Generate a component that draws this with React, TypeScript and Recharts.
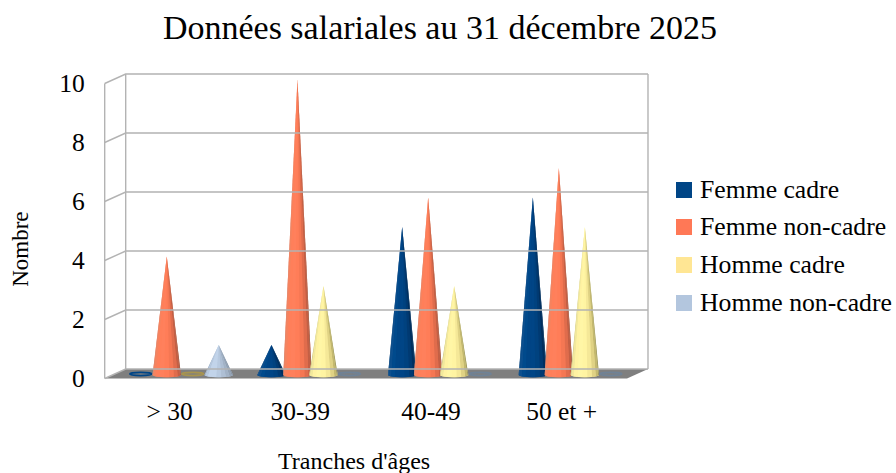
import { Bar, BarChart, Legend, ReferenceArea, ReferenceLine, XAxis, YAxis } from "recharts"

// Values
const ageGroups = ["> 30", "30-39", "40-49", "50 et +"]
const femmeCadre = [0, 1, 5, 6]
const femmeNonCadre = [4, 10, 6, 7]
const hommeCadre = [0, 3, 3, 5]
const hommeNonCadre = [1, 0, 0, 0]
const yTicks = [0, 2, 4, 6, 8, 10]

const data = ageGroups.map((group, i) => ({
  group,
  femmeCadre: femmeCadre[i],
  femmeNonCadre: femmeNonCadre[i],
  hommeCadre: hommeCadre[i],
  hommeNonCadre: hommeNonCadre[i],
}))

const FONT = "'Liberation Serif', serif"
const GRID = "#b3b3b3"

// fake 3D depth of the LibreOffice chart
const BACK_UP = 6
const FRONT_DOWN = 3.5
const BACK_X = 11
const FRONT_X = 10

// shading of a cone, left edge to right edge
const shades: Record<string, string[]> = {
  blue: ["#22598c", "#0c4f8e", "#004a8c", "#004586", "#004586", "#00427f", "#003a72", "#002f5e", "#1f3f5e"],
  orange: ["#d98a72", "#f5835f", "#ff7f5a", "#ff805c", "#ff7d58", "#f57753", "#e06c4c", "#c45f44", "#96614f"],
  yellow: ["#cfc88c", "#f2e89c", "#fff2a2", "#fff6a6", "#fff4a2", "#f5e898", "#e0d284", "#c4b86e", "#94905f"],
  light: ["#a3b4c8", "#b6c8de", "#c2d4ea", "#c2d4ea", "#b8cae0", "#aebfd4", "#a2b2c6", "#94a3b5", "#808d9c"],
}

function Cone(props: any) {
  const { x, y, width, height, color, ring } = props
  const cx = x + width / 2
  const base = y + height
  if (!(height > 0)) {
    return <ellipse cx={cx} cy={base - 1} rx={width / 2 - 2} ry={1.6} fill="none" stroke={ring} strokeWidth={1.6} />
  }
  const half = width / 2 + 1.2
  const list = shades[color]
  const tip = y - 0.5
  // one thin wedge from the tip per shade, so the edges stay dark up to the tip
  const edge = (i: number) => {
    const a = -Math.PI / 2 + (Math.PI * i) / list.length
    return [cx + half * Math.sin(a), base + 2.2 * Math.cos(a)]
  }
  return (
    <g>
      <path d={`M${cx - half},${base} A${half},2.2 0 0 0 ${cx + half},${base} L${cx},${tip} Z`} fill={list[3]} />
      {list.map((c, i) => {
        const [x0, y0] = edge(i)
        const [x1, y1] = edge(i + 1)
        return <polygon key={i} points={`${cx},${tip} ${x0},${y0} ${x1},${y1}`} fill={c} />
      })}
    </g>
  )
}

function WallLine(props: any) {
  const { x1, y1, x2 } = props
  const points = `${x1 - FRONT_X},${y1 + FRONT_DOWN} ${x1 + BACK_X},${y1 - BACK_UP} ${x2 + BACK_X - 0.5},${y1 - BACK_UP}`
  return <polyline points={points} fill="none" stroke={GRID} strokeWidth={1.4} />
}

function Frame(props: any) {
  const { x, y, width, height } = props
  const left = x - FRONT_X
  const back = x + BACK_X
  const right = x + width + BACK_X - 0.5
  const bottom = y + height
  return (
    <g>
      <line x1={left} y1={y + FRONT_DOWN} x2={left} y2={bottom + FRONT_DOWN} stroke={GRID} strokeWidth={1.4} />
      <line x1={back} y1={y - BACK_UP} x2={back} y2={bottom - BACK_UP} stroke={GRID} strokeWidth={1.4} />
      <line x1={right} y1={y - BACK_UP} x2={right} y2={bottom - BACK_UP} stroke={GRID} strokeWidth={1.4} />
      <polygon
        points={`${left},${bottom + FRONT_DOWN} ${back},${bottom - BACK_UP} ${right},${bottom - BACK_UP} ${right - FRONT_X - BACK_X},${bottom + FRONT_DOWN}`}
        fill="#7f7f7f"
      />
    </g>
  )
}

function YTick({ x, y, payload }: any) {
  return (
    <text x={x - 22} y={y + FRONT_DOWN + 8} textAnchor="end" fontFamily={FONT} fontSize={25.5} fill="#000">
      {payload.value}
    </text>
  )
}

function XTick({ x, y, payload }: any) {
  return (
    <text x={x - FRONT_X - 0.5} y={y + 37} textAnchor="middle" fontFamily={FONT} fontSize={25.5} fill="#000">
      {payload.value}
    </text>
  )
}

function LegendList({ payload }: any) {
  return (
    <div style={{ fontFamily: FONT, fontSize: 25.7, color: "#000" }}>
      {(payload ?? []).map((item: any) => (
        <div key={item.value} style={{ display: "flex", alignItems: "center", height: 37.6, whiteSpace: "nowrap" }}>
          <span style={{ width: 16, height: 16, marginRight: 8, background: item.color }} />
          {item.value}
        </div>
      ))}
    </div>
  )
}

export default function App() {
  return (
    <div style={{ position: "absolute", left: 0, top: 0, width: 896, height: 473 }}>
      <BarChart
        width={896}
        height={473}
        data={data}
        margin={{ top: 80, right: 258.5, bottom: 58, left: 54.7 }}
        barCategoryGap="10%"
        barGap={0}
      >
        <text x={440} y={39} textAnchor="middle" fontFamily={FONT} fontSize={34} fill="#000">
          Données salariales au 31 décembre 2025
        </text>
        <XAxis
          dataKey="group"
          height={40}
          axisLine={false}
          tickLine={false}
          tick={<XTick />}
          interval={0}
          label={{ value: "Tranches d'âges", position: "bottom", dx: -22, dy: 32, fontFamily: FONT, fontSize: 24, fill: "#000" }}
        />
        <YAxis
          width={60}
          domain={[0, 10]}
          ticks={yTicks}
          axisLine={false}
          tickLine={false}
          tick={<YTick />}
          label={{ value: "Nombre", angle: -90, position: "left", dx: -30, dy: -16, fontFamily: FONT, fontSize: 23, fill: "#000" }}
        />
        <ReferenceArea y1={0} y2={10} shape={<Frame />} />
        {yTicks.map((t) => (
          <ReferenceLine key={t} y={t} shape={<WallLine />} />
        ))}
        <Legend
          layout="vertical"
          align="center"
          verticalAlign="middle"
          wrapperStyle={{ left: 676, top: 171, width: 220 }}
          content={<LegendList />}
        />
        <Bar dataKey="femmeCadre" name="Femme cadre" fill="#004586" isAnimationActive={false} shape={<Cone color="blue" ring="#004586" />} />
        <Bar dataKey="femmeNonCadre" name="Femme non-cadre" fill="#ff7856" isAnimationActive={false} shape={<Cone color="orange" ring="#ff7856" />} />
        <Bar dataKey="hommeCadre" name="Homme cadre" fill="#ffe694" isAnimationActive={false} shape={<Cone color="yellow" ring="#a8944e" />} />
        <Bar dataKey="hommeNonCadre" name="Homme non-cadre" fill="#b3c6de" isAnimationActive={false} shape={<Cone color="light" ring="#6f8296" />} />
      </BarChart>
    </div>
  )
}
